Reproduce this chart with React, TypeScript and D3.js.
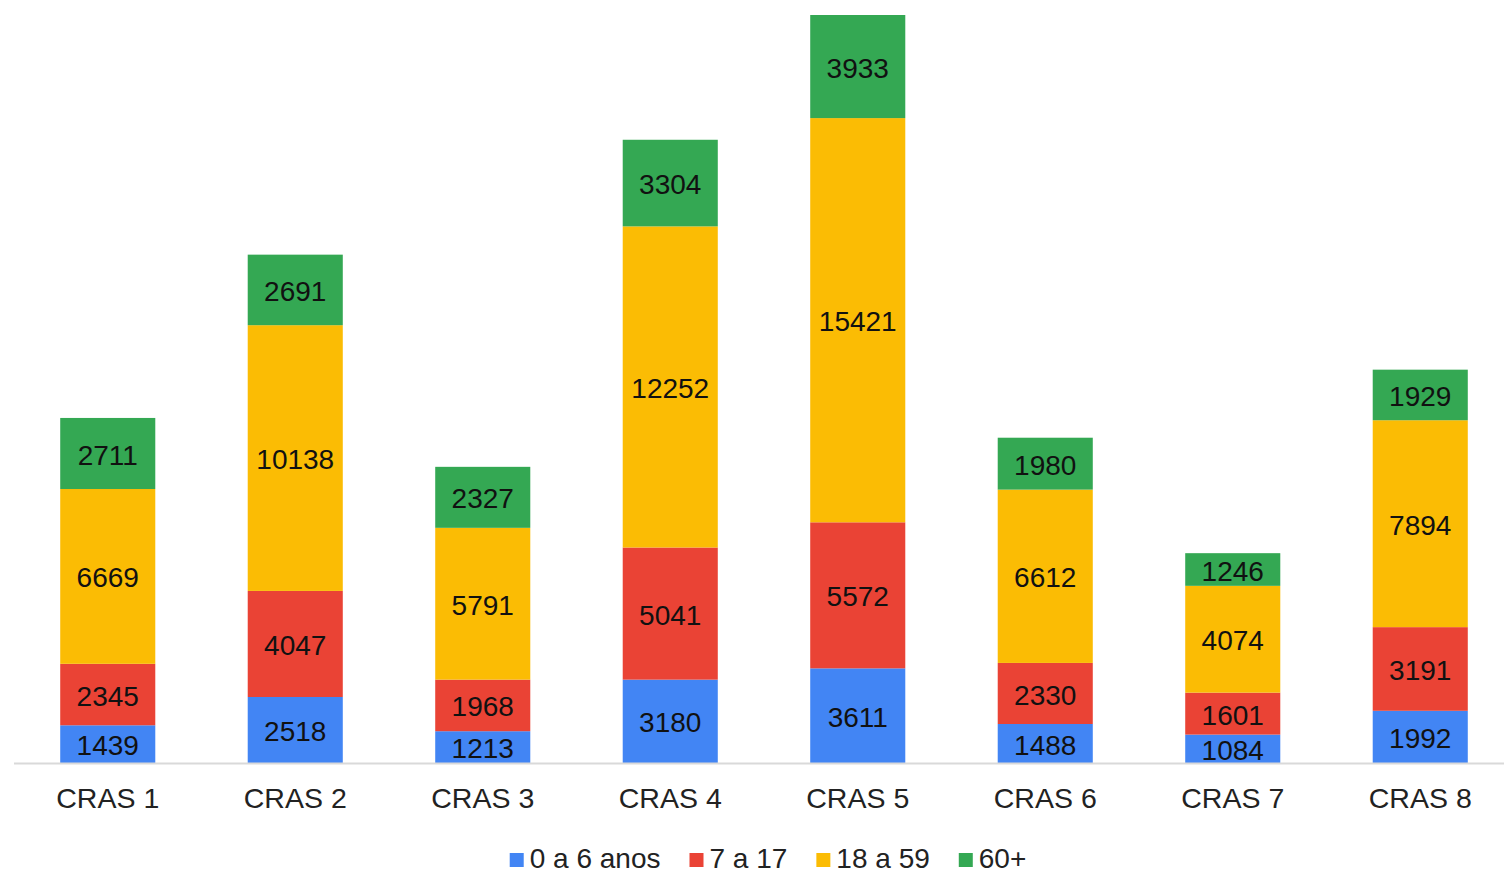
import React, { useEffect, useRef } from "react";
import * as d3 from "d3";

const categories = ["CRAS 1", "CRAS 2", "CRAS 3", "CRAS 4", "CRAS 5", "CRAS 6", "CRAS 7", "CRAS 8"];
const seriesNames = ["0 a 6 anos", "7 a 17", "18 a 59", "60+"];
const age0to6 = [1439, 2518, 1213, 3180, 3611, 1488, 1084, 1992];
const age7to17 = [2345, 4047, 1968, 5041, 5572, 2330, 1601, 3191];
const age18to59 = [6669, 10138, 5791, 12252, 15421, 6612, 4074, 7894];
const age60plus = [2711, 2691, 2327, 3304, 3933, 1980, 1246, 1929];
const colors = ["#4285F4", "#EA4335", "#FBBC04", "#34A853"];

export default function App() {
  const ref = useRef<SVGSVGElement>(null);
  useEffect(() => {
    const svg = d3.select(ref.current);
    svg.selectAll("*").remove();
    const font = "'Liberation Sans', Arial, sans-serif";
    const series = [age0to6, age7to17, age18to59, age60plus];
    const rows = categories.map((c, i) => {
      const r: any = { cat: c };
      seriesNames.forEach((s, j) => (r[s] = series[j][i]));
      return r;
    });
    const stacked = d3.stack().keys(seriesNames)(rows);
    const baseY = 763;
    const maxTotal = d3.max(rows, (r: any) => seriesNames.reduce((a, s) => a + r[s], 0)) as number;
    const y = d3.scaleLinear().domain([0, maxTotal]).range([baseY, 15]);
    const x = d3.scaleBand().domain(categories).range([14, 1514]).padding(0);
    const barW = x.bandwidth() * 0.507;

    const g = svg.append("g");
    stacked.forEach((layer, j) => {
      const lg = g.append("g");
      layer.forEach((d: any, i) => {
        const cx = (x(categories[i]) as number) + x.bandwidth() / 2;
        const y0 = y(d[0]), y1 = y(d[1]);
        lg.append("rect")
          .attr("x", cx - barW / 2)
          .attr("y", y1)
          .attr("width", barW)
          .attr("height", y0 - y1)
          .attr("fill", colors[j]);
        lg.append("text")
          .attr("x", cx)
          .attr("y", (y0 + y1) / 2 + 1)
          .attr("dy", "0.36em")
          .attr("text-anchor", "middle")
          .attr("font-family", font)
          .attr("font-size", 28)
          .attr("fill", "#111")
          .text(String(d[1] - d[0]));
      });
    });

    svg.append("line")
      .attr("x1", 14).attr("x2", 1504)
      .attr("y1", baseY + 0.5).attr("y2", baseY + 0.5)
      .attr("stroke", "#d9d9d9").attr("stroke-width", 2);

    const xAxis = svg.append("g").attr("transform", `translate(0,${baseY})`)
      .call(d3.axisBottom(x).tickSize(0).tickPadding(0));
    xAxis.select(".domain").remove();
    xAxis.selectAll("text")
      .attr("y", 45)
      .attr("dy", 0)
      .attr("font-family", font)
      .attr("font-size", 28.5)
      .attr("fill", "#222");

    // legend
    const legend = svg.append("g");
    const items = seriesNames.map((s, j) => {
      const it = legend.append("g");
      it.append("rect").attr("width", 14).attr("height", 14).attr("y", -15).attr("fill", colors[j]);
      const t = it.append("text").attr("x", 20).attr("y", 0)
        .attr("font-family", font).attr("font-size", 28).attr("fill", "#222").text(s);
      const w = 20 + (t.node() as SVGTextElement).getComputedTextLength();
      return { it, w };
    });
    const gap = 29;
    const total = d3.sum(items, (d) => d.w) + gap * (items.length - 1);
    let cx = 768 - total / 2;
    items.forEach(({ it, w }) => {
      it.attr("transform", `translate(${cx},${868})`);
      cx += w + gap;
    });
  }, []);
  return (
    <svg ref={ref} width={1504} height={875} style={{ position: "absolute", left: 0, top: 0, background: "#fff" }} />
  );
}
